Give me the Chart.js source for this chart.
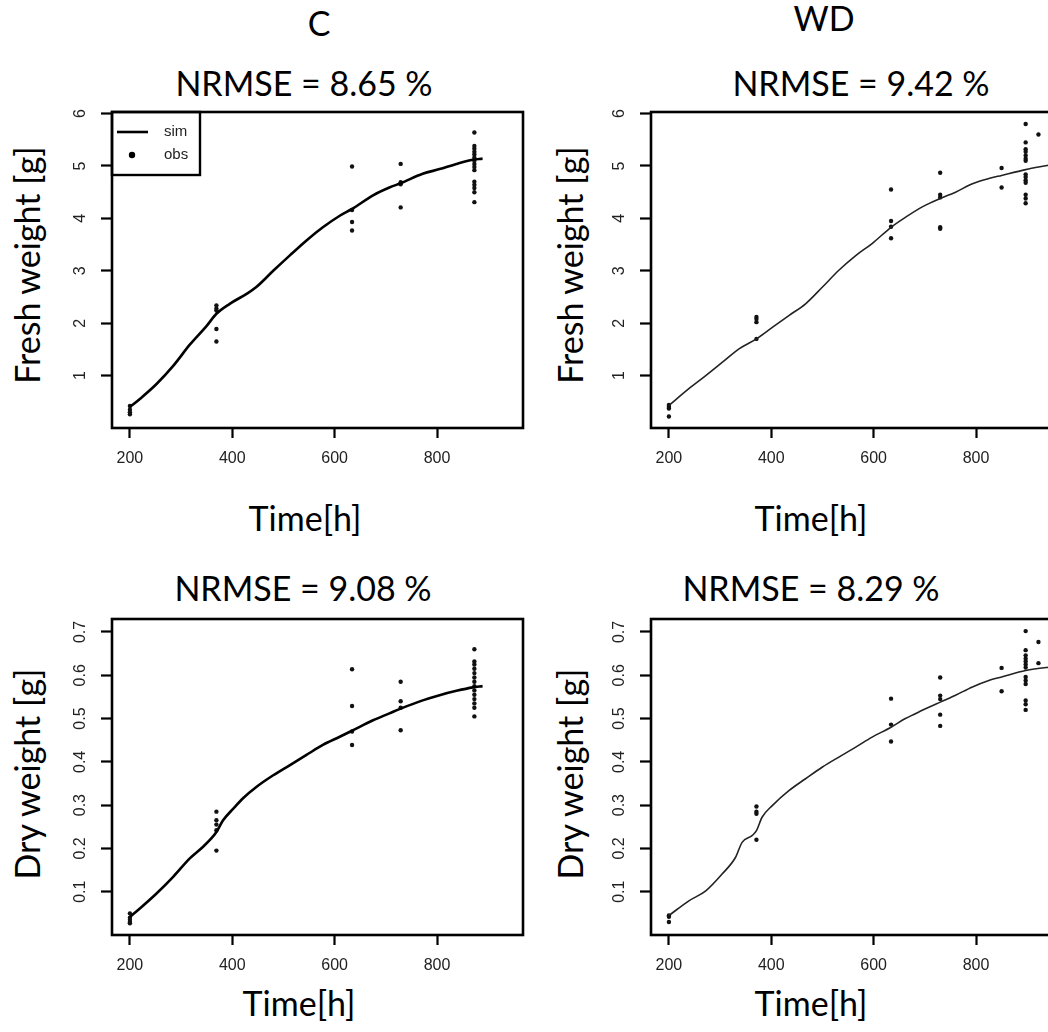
<!DOCTYPE html>
<html>
<head>
<meta charset="utf-8">
<script src="https://cdn.jsdelivr.net/npm/chart.js@4.4.1/dist/chart.umd.min.js"></script>
<style>
  body { margin: 0; width: 1048px; height: 1032px; overflow: hidden; position: relative; background: #fff; }
  canvas { position: absolute; }
  .t { position: absolute; font-family: Lato, "Open Sans", sans-serif; font-size: 34px; line-height: 1; color: #000; white-space: nowrap; transform: translate(-50%, -50%); }
  .r { transform: translate(-50%, -50%) rotate(-90deg); }
</style>
</head>
<body>
<div class="t" style="left:319px;top:23px">C</div>
<div class="t" style="left:824px;top:18px">WD</div>

<div class="t" style="left:304px;top:83px">NRMSE = 8.65 %</div>
<div class="t" style="left:861px;top:83px">NRMSE = 9.42 %</div>
<div class="t" style="left:303px;top:588px">NRMSE = 9.08 %</div>
<div class="t" style="left:811px;top:588px">NRMSE = 8.29 %</div>

<div class="t" style="left:305px;top:518px">Time[h]</div>
<div class="t" style="left:811px;top:518px">Time[h]</div>
<div class="t" style="left:299px;top:1003px">Time[h]</div>
<div class="t" style="left:811px;top:1003px">Time[h]</div>

<div class="t r" style="left:27px;top:265px">Fresh weight [g]</div>
<div class="t r" style="left:570px;top:265px">Fresh weight [g]</div>
<div class="t r" style="left:27px;top:774px">Dry weight [g]</div>
<div class="t r" style="left:570px;top:774px">Dry weight [g]</div>

<canvas id="cFresh" width="540" height="380" style="left:0;top:100px"></canvas>
<canvas id="wdFresh" width="540" height="380" style="left:540px;top:100px"></canvas>
<canvas id="cDry" width="540" height="387" style="left:0;top:600px"></canvas>
<canvas id="wdDry" width="540" height="387" style="left:540px;top:600px"></canvas>

<script>
// axis ticks
const xTicks = [200, 400, 600, 800];
const freshTicks = [1, 2, 3, 4, 5, 6];
const dryTicks = [0.1, 0.2, 0.3, 0.4, 0.5, 0.6, 0.7];

// C - fresh weight
const cFreshSimTime = [200, 220, 252, 285, 317, 350, 369, 395, 428, 447, 480, 512, 545, 577, 610, 634, 675, 707, 729, 772, 805, 838, 870, 889];
const cFreshSim = [0.40, 0.56, 0.84, 1.19, 1.59, 1.95, 2.18, 2.37, 2.56, 2.69, 3.00, 3.29, 3.58, 3.83, 4.05, 4.18, 4.44, 4.59, 4.67, 4.85, 4.94, 5.04, 5.12, 5.14];
const cObsTime = [200, 369, 634, 729, 873];
const cFreshObs = [
    [0.42, 0.35, 0.30, 0.26],
    [2.34, 2.28, 2.24, 1.89, 1.65],
    [4.99, 4.16, 3.93, 3.77],
    [5.04, 4.69, 4.65, 4.21],
    [5.64, 5.38, 5.33, 5.27, 5.22, 5.16, 5.10, 5.04, 4.98, 4.92, 4.70, 4.64, 4.58, 4.50, 4.31]
];

// WD - fresh weight
const wdFreshSimTime = [200, 239, 272, 304, 337, 371, 402, 435, 467, 500, 532, 565, 597, 634, 662, 695, 730, 760, 793, 825, 850, 897, 939, 960];
const wdFreshSim = [0.43, 0.75, 1.00, 1.25, 1.51, 1.70, 1.92, 2.15, 2.37, 2.69, 3.01, 3.29, 3.52, 3.83, 4.02, 4.22, 4.38, 4.50, 4.66, 4.76, 4.82, 4.93, 5.01, 5.05];
const wdObsTime = [200, 371, 634, 730, 850, 897, 922];
const wdFreshObs = [
    [0.44, 0.40, 0.37, 0.22],
    [2.12, 2.08, 2.02, 1.70],
    [4.55, 3.95, 3.84, 3.62],
    [4.87, 4.45, 4.40, 3.83, 3.80],
    [4.96, 4.59],
    [5.80, 5.45, 5.32, 5.27, 5.20, 5.14, 5.10, 4.84, 4.79, 4.73, 4.68, 4.45, 4.38, 4.29],
    [5.60]
];

// C - dry weight
const cDrySimTime = [200, 220, 252, 285, 317, 343, 359, 369, 382, 402, 421, 447, 480, 512, 545, 577, 610, 634, 675, 707, 729, 772, 805, 838, 870, 889];
const cDrySim = [0.042, 0.062, 0.096, 0.135, 0.177, 0.204, 0.223, 0.238, 0.265, 0.292, 0.316, 0.342, 0.369, 0.392, 0.416, 0.439, 0.458, 0.472, 0.496, 0.512, 0.523, 0.542, 0.554, 0.564, 0.572, 0.575];
const cDryObs = [
    [0.050, 0.040, 0.035, 0.030, 0.027],
    [0.285, 0.265, 0.255, 0.242, 0.195],
    [0.614, 0.529, 0.470, 0.439],
    [0.585, 0.540, 0.525, 0.473],
    [0.660, 0.632, 0.625, 0.615, 0.605, 0.595, 0.585, 0.575, 0.565, 0.555, 0.545, 0.535, 0.525, 0.505]
];

// WD - dry weight
const wdDrySimTime = [200, 239, 272, 304, 330, 343, 363, 371, 382, 402, 435, 467, 500, 532, 565, 597, 634, 662, 695, 730, 760, 793, 825, 850, 897, 939, 960];
const wdDrySim = [0.045, 0.079, 0.102, 0.141, 0.179, 0.214, 0.230, 0.241, 0.272, 0.299, 0.334, 0.361, 0.388, 0.411, 0.434, 0.457, 0.480, 0.500, 0.519, 0.538, 0.554, 0.573, 0.588, 0.596, 0.611, 0.618, 0.620];
const wdDryObs = [
    [0.045, 0.042, 0.030],
    [0.297, 0.285, 0.280, 0.220],
    [0.546, 0.486, 0.447],
    [0.595, 0.553, 0.545, 0.509, 0.483],
    [0.617, 0.563],
    [0.702, 0.658, 0.646, 0.638, 0.632, 0.625, 0.618, 0.596, 0.588, 0.580, 0.542, 0.533, 0.520],
    [0.677, 0.628]
];

const tickFont = '16px "Liberation Sans", Arial, sans-serif';

// box round the plot, R style tick labels, and the sim/obs legend
const rStyle = {
    id: 'rStyle',
    afterDraw(chart, args, opts) {
        const ctx = chart.ctx;
        const a = chart.chartArea;
        const xs = chart.scales.x;
        const ys = chart.scales.y;
        ctx.save();
        ctx.strokeStyle = '#000';
        ctx.lineWidth = 2.6;
        ctx.strokeRect(a.left, a.top, a.right - a.left, a.bottom - a.top);

        ctx.fillStyle = '#222';
        ctx.font = tickFont;
        ctx.textAlign = 'center';
        ctx.textBaseline = 'middle';
        xs.ticks.forEach(t => {
            ctx.fillText(String(t.value), xs.getPixelForValue(t.value), a.bottom + 31);
        });
        ys.ticks.forEach(t => {
            ctx.save();
            ctx.translate(a.left - 31, ys.getPixelForValue(t.value));
            ctx.rotate(-Math.PI / 2);
            ctx.fillText(String(t.value), 0, 0);
            ctx.restore();
        });

        if (opts.legend) {
            ctx.lineWidth = 2.4;
            ctx.strokeRect(a.left, a.top, 88, 63);
            const sim = chart.data.datasets[0];
            ctx.strokeStyle = sim.borderColor;
            ctx.lineWidth = sim.borderWidth;
            ctx.beginPath();
            ctx.moveTo(a.left + 5, a.top + 20);
            ctx.lineTo(a.left + 36, a.top + 20);
            ctx.stroke();
            ctx.fillStyle = '#000';
            ctx.beginPath();
            ctx.arc(a.left + 20, a.top + 43, 3.2, 0, Math.PI * 2);
            ctx.fill();
            ctx.fillStyle = '#222';
            ctx.font = '15px "Liberation Sans", Arial, sans-serif';
            ctx.textAlign = 'left';
            ctx.fillText('sim', a.left + 52, a.top + 20);
            ctx.fillText('obs', a.left + 52, a.top + 43);
        }
        ctx.restore();
    }
};

function makePanel(id, simTime, sim, obsTime, obs, yTicks, yMax, padTop, padRight, yWidth, thin, legend) {
    const simPoints = simTime.map((t, i) => ({ x: t, y: sim[i] }));
    const obsPoints = [];
    obsTime.forEach((t, i) => {
        obs[i].forEach(v => obsPoints.push({ x: t, y: v }));
    });
    return new Chart(document.getElementById(id), {
        type: 'scatter',
        data: {
            datasets: [{
                label: 'sim',
                data: simPoints,
                showLine: true,
                borderColor: thin ? '#222' : '#000',
                borderWidth: thin ? 1.6 : 2.6,
                pointRadius: 0,
                cubicInterpolationMode: 'monotone'
            }, {
                label: 'obs',
                data: obsPoints,
                pointRadius: 2.2,
                pointBackgroundColor: '#111',
                pointBorderWidth: 0
            }]
        },
        options: {
            responsive: false,
            animation: false,
            layout: { padding: { left: 0, top: padTop, right: padRight, bottom: 0 } },
            plugins: {
                legend: { display: false },
                tooltip: { enabled: false },
                rStyle: { legend: legend }
            },
            scales: {
                x: {
                    type: 'linear',
                    min: 165,
                    max: 968,
                    afterBuildTicks: s => { s.ticks = xTicks.map(v => ({ value: v })); },
                    afterFit: s => { s.height = 52; },
                    ticks: { display: false },
                    border: { display: false },
                    grid: { drawOnChartArea: false, drawTicks: true, tickLength: 10, tickWidth: 2.2, tickColor: '#000' }
                },
                y: {
                    type: 'linear',
                    min: 0,
                    max: yMax,
                    afterBuildTicks: s => { s.ticks = yTicks.map(v => ({ value: v })); },
                    afterFit: s => { s.width = yWidth; },
                    ticks: { display: false },
                    border: { display: false },
                    grid: { drawOnChartArea: false, drawTicks: true, tickLength: 11, tickWidth: 2.2, tickColor: '#000' }
                }
            }
        },
        plugins: [rStyle]
    });
}

makePanel('cFresh', cFreshSimTime, cFreshSim, cObsTime, cFreshObs, freshTicks, 6.03, 12, 17, 112, false, true);
makePanel('wdFresh', wdFreshSimTime, wdFreshSim, wdObsTime, wdFreshObs, freshTicks, 6.03, 12, 18, 111, true, false);
makePanel('cDry', cDrySimTime, cDrySim, cObsTime, cDryObs, dryTicks, 0.73, 19, 17, 112, false, false);
makePanel('wdDry', wdDrySimTime, wdDrySim, wdObsTime, wdDryObs, dryTicks, 0.73, 19, 18, 111, true, false);
</script>
</body>
</html>
